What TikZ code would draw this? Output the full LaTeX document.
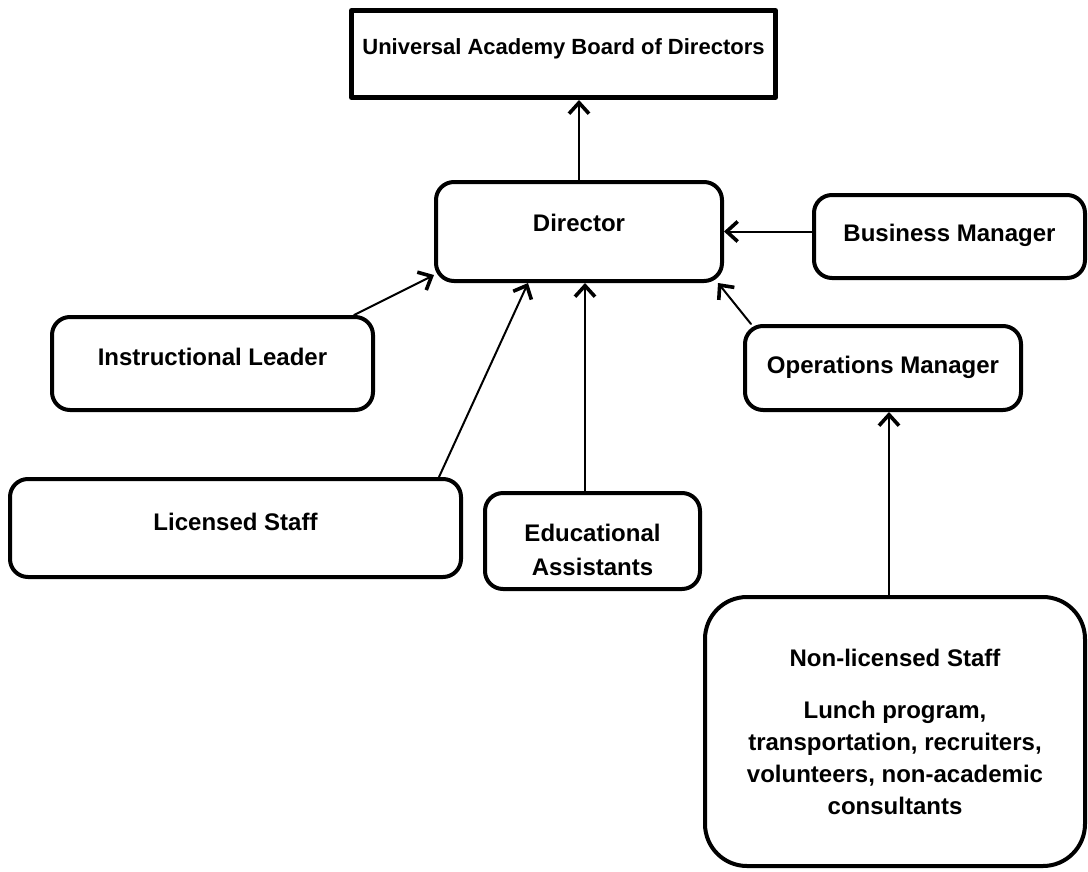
\documentclass[tikz,border=0pt]{standalone}
\usepackage{fontspec}
\setmainfont{Liberation Sans}
\usetikzlibrary{arrows.meta}

\begin{document}
\begin{tikzpicture}[line cap=round, line join=round, x=1pt, y=-1pt,
                unit/.style={draw, line width=4pt, rounded corners=18pt, align=center,
                    font=\bfseries\fontsize{24}{32}\selectfont, text height=17pt, text depth=12pt},
                link/.style={line width=2pt, -{Straight Barb[length=11pt,width=20pt,line width=3.6pt 0 1]}}]

                \useasboundingbox (0,0) rectangle (1088,871);

                \node[draw, line width=5pt, minimum width=424pt, minimum height=87pt,
                    font=\bfseries\fontsize{22}{26}\selectfont, text height=15.75pt, text depth=14pt]
                    (board) at (563.5,54) {Universal Academy Board of Directors};

                \node[unit, minimum width=286pt, minimum height=99pt, text depth=17pt] (dir) at (579,231.5) {Director};
                \node[unit, minimum width=271pt, minimum height=83pt, text depth=7pt] (bus) at (949.5,236.5) {Business Manager};
                \node[unit, minimum width=321pt, minimum height=93pt, text depth=13pt] (instr) at (212.5,363.5) {Instructional Leader};
                \node[unit, minimum width=276pt, minimum height=84pt, text depth=6pt] (ops) at (883,368) {Operations Manager};
                \node[unit, minimum width=451pt, minimum height=98pt] (lic) at (235.5,528) {Licensed Staff};
                \node[unit, minimum width=215pt, minimum height=96pt, text height=75pt, text depth=6pt] (edu) at (592.5,541) {Educational\\[2pt]Assistants};
                \node[unit, minimum width=380pt, minimum height=269pt, rounded corners=42pt, text height=, text depth=]
                    (nonlic) at (895,731.5) {Non-licensed Staff\\[20pt]Lunch program,\\transportation, recruiters,\\volunteers, non-academic\\consultants};

                \draw[link] (dir.north) -- (dir.north |- board.south);
                \draw[link] (bus.west |- dir.east) -- (dir.east);
                \draw[link] ([xshift=-21pt]instr.north east) -- ([yshift=8pt]dir.south west);
                \draw[link] ([xshift=-24pt]lic.north east) -- ([xshift=94pt]dir.south west);
                \draw[link] ([xshift=-7.5pt]edu.north) -- ([xshift=-7.5pt]edu.north |- dir.south);
                \draw[link] ([xshift=8pt]ops.north west) -- ([xshift=-6pt]dir.south east);
                \draw[link] ([xshift=-6pt]nonlic.north) -- ([xshift=-6pt]nonlic.north |- ops.south);

            \end{tikzpicture}
\end{document}
